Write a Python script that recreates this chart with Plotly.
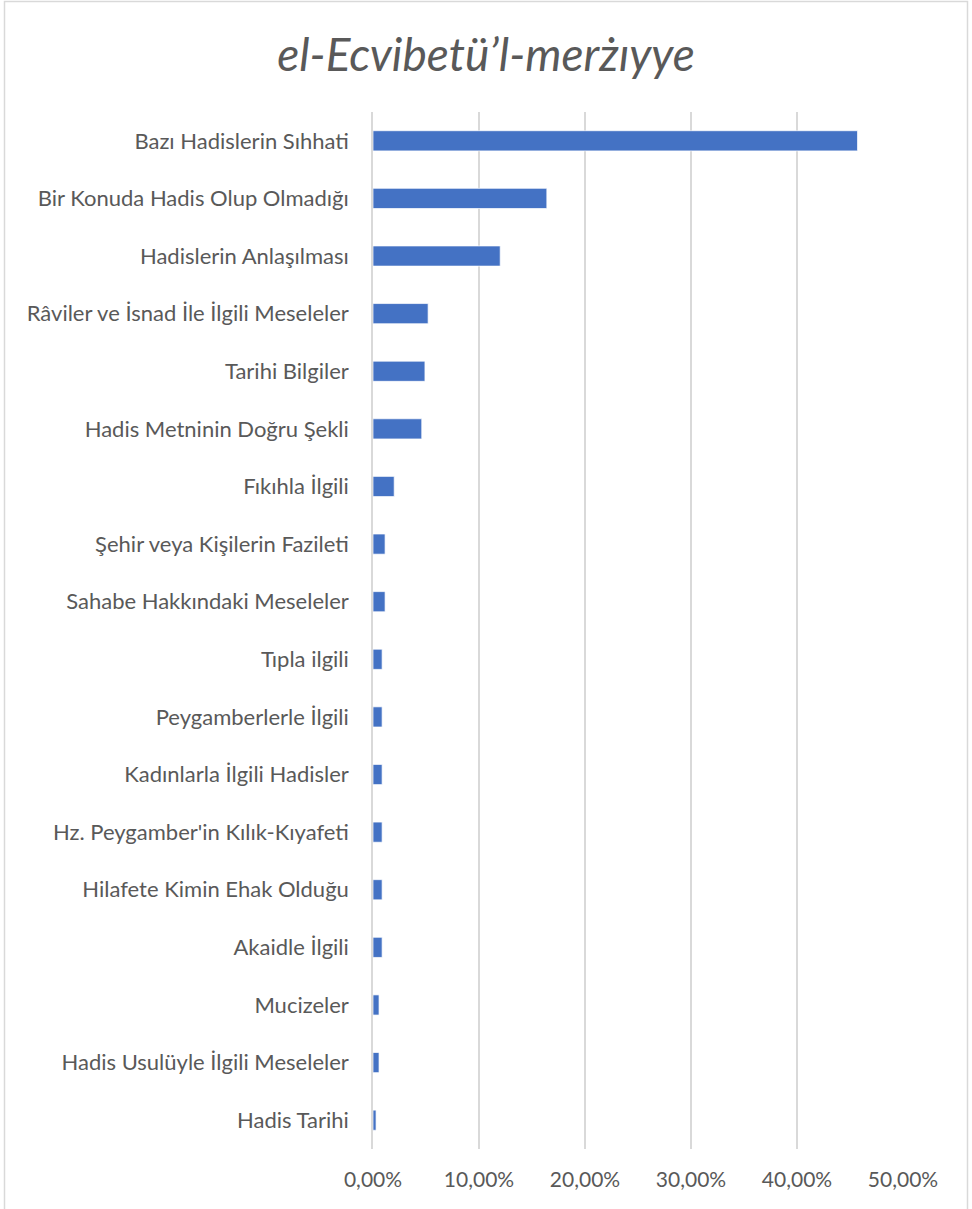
import plotly.graph_objects as go

categories = [
    "Bazı Hadislerin Sıhhati",
    "Bir Konuda Hadis Olup Olmadığı",
    "Hadislerin Anlaşılması",
    "Râviler ve İsnad İle İlgili Meseleler",
    "Tarihi Bilgiler",
    "Hadis Metninin Doğru Şekli",
    "Fıkıhla İlgili",
    "Şehir veya Kişilerin Fazileti",
    "Sahabe Hakkındaki Meseleler",
    "Tıpla ilgili",
    "Peygamberlerle İlgili",
    "Kadınlarla İlgili Hadisler",
    "Hz. Peygamber'in Kılık-Kıyafeti",
    "Hilafete Kimin Ehak Olduğu",
    "Akaidle İlgili",
    "Mucizeler",
    "Hadis Usulüyle İlgili Meseleler",
    "Hadis Tarihi",
]
values = [0.4571, 0.1640, 0.1200, 0.0520, 0.0490, 0.0460, 0.0200, 0.0114, 0.0114,
          0.0086, 0.0086, 0.0086, 0.0086, 0.0086, 0.0086, 0.0057, 0.0057, 0.0029]
tick_vals = [0, 0.1, 0.2, 0.3, 0.4, 0.5]

W, H = 972, 1209
L, R, T, B = 373, 69, 112, 60
pw = W - L - R
ph = H - T - B

FONT = "Lato, Open Sans, sans-serif"

fig = go.Figure(go.Bar(
    x=values, y=categories, orientation="h",
    marker=dict(color="#4472C4", line=dict(color="rgba(255,255,255,0.7)", width=1)),
))

fig.update_layout(
    width=W, height=H,
    margin=dict(l=L, r=R, t=T, b=B, pad=0),
    paper_bgcolor="white", plot_bgcolor="white",
    separators=",.",
    bargap=0.65,
    showlegend=False,
    font=dict(family=FONT, color="#595959", size=22),
    title=dict(text="<i>el-Ecvibetü’l-merżıyye</i>", x=0.5, xanchor="center",
               xref="container", y=1 - 55 / H, yref="container", yanchor="middle",
               font=dict(size=46, color="#595959", family=FONT)),
    xaxis=dict(range=[0, 0.5], tickvals=tick_vals, tickformat=".2%",
               showgrid=True, gridcolor="#D9D9D9", gridwidth=1.5,
               zeroline=False, showline=False, ticks="", ticklabelstandoff=16,
               tickfont=dict(size=21, color="#595959"), fixedrange=True),
    yaxis=dict(categoryorder="array", categoryarray=categories[::-1],
               autorange=False, range=[-0.5, len(categories) - 0.5],
               showgrid=False, zeroline=False, showline=True, linecolor="#D9D9D9", linewidth=1.5,
               ticks="", ticklabelstandoff=18,
               tickfont=dict(size=22, color="#595959"), fixedrange=True),
    shapes=[dict(type="rect", xref="paper", yref="paper",
                 x0=(4.5 - L) / pw, x1=(967.5 - L) / pw,
                 y0=-(B + 10) / ph, y1=(ph + T - 1.5) / ph,
                 line=dict(color="#D9D9D9", width=1.5), fillcolor="rgba(0,0,0,0)", layer="below")],
)

fig.write_html("out.html", config={"displayModeBar": False},
               post_script="document.body.style.margin='0';document.body.style.overflow='hidden';")
